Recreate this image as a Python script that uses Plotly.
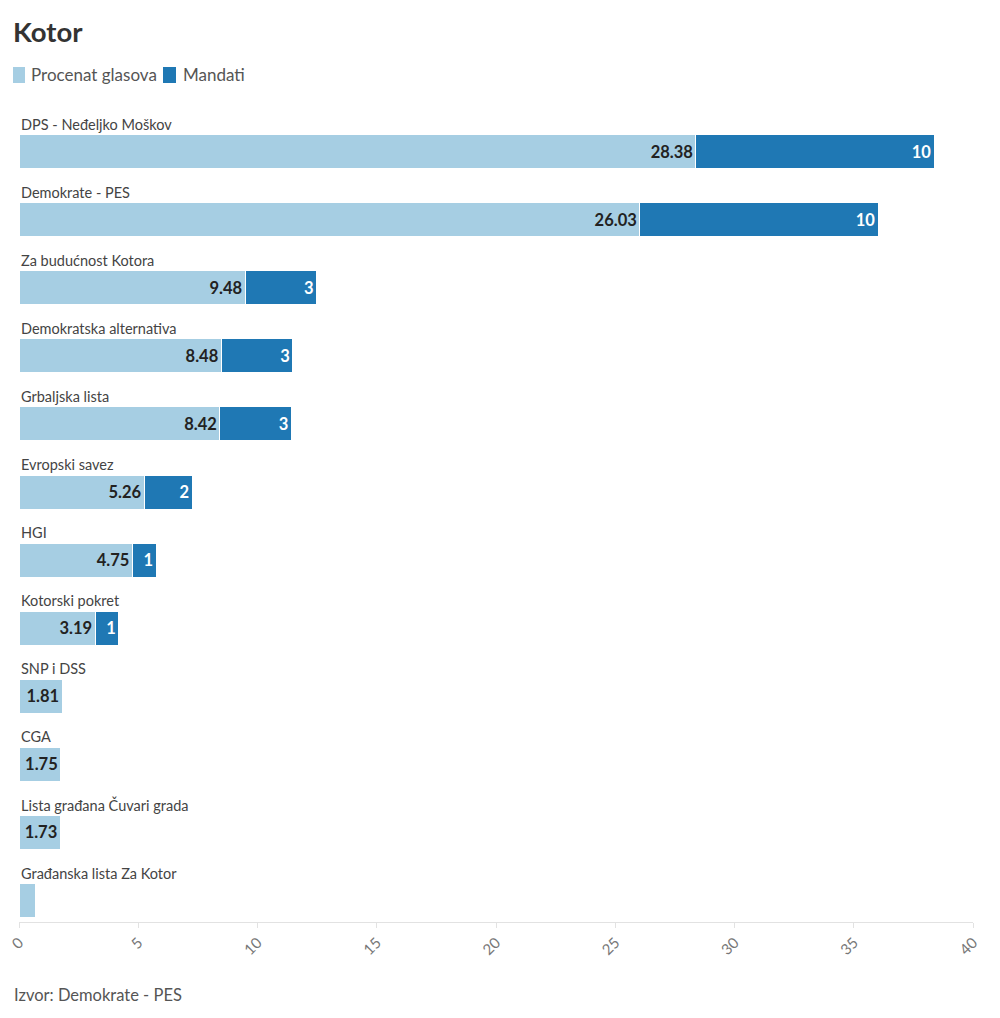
import plotly.graph_objects as go

categories = [
    "DPS - Neđeljko Moškov",
    "Demokrate - PES",
    "Za budućnost Kotora",
    "Demokratska alternativa",
    "Grbaljska lista",
    "Evropski savez",
    "HGI",
    "Kotorski pokret",
    "SNP i DSS",
    "CGA",
    "Lista građana Čuvari grada",
    "Građanska lista Za Kotor",
]
procenat = [28.38, 26.03, 9.48, 8.48, 8.42, 5.26, 4.75, 3.19, 1.81, 1.75, 1.73, 0.7]
mandati = [10, 10, 3, 3, 3, 2, 1, 1, 0, 0, 0, 0]
x_ticks = [0, 5, 10, 15, 20, 25, 30, 35, 40]
series_names = ["Procenat glasova", "Mandati"]

FONT = "Lato, 'Open Sans', sans-serif"
LIGHT = "#a6cee3"
DARK = "#1f78b4"

OFF = 8  # page body margin
W, H = 1000, 1018
ML, MR, MT, MB = 19 - OFF, 27 + OFF, 40 - OFF, 96 + OFF
PW = W - ML - MR
PH = H - MT - MB
PLOT_TOP_PX = 111 - OFF


def px_x(px):
    return (px - OFF - ML) / PW


def px_y(py):
    return (H - MB - (py - OFF)) / PH


pos = list(range(len(categories)))
proc_text = [f"{v:.2f}" if v >= 1 else "" for v in procenat]
mand_text = [str(m) if m > 0 else "" for m in mandati]

fig = go.Figure()
fig.add_trace(go.Bar(
    y=pos, x=procenat, orientation="h", name=series_names[0],
    marker=dict(color=LIGHT, line=dict(color="white", width=1)),
    width=0.5, text=proc_text, textposition="inside", insidetextanchor="end",
    textfont=dict(family=FONT, size=16.5, color="#222222", weight="bold"),
    hoverinfo="skip", showlegend=False,
))
fig.add_trace(go.Bar(
    y=pos, x=mandati, orientation="h", name=series_names[1],
    marker=dict(color=DARK, line=dict(color="white", width=1)),
    width=0.5, text=mand_text, textposition="inside", insidetextanchor="end",
    textfont=dict(family=FONT, size=16.5, color="white", weight="bold"),
    hoverinfo="skip", showlegend=False,
))

for i, c in enumerate(categories):
    fig.add_annotation(
        x=0, y=i - 0.4, xref="x", yref="y", text=c, showarrow=False,
        xanchor="left", yanchor="middle",
        font=dict(family=FONT, size=14.5, color="#444444"),
    )

# manual legend
legend_items = [(13, 25, 29, LIGHT, series_names[0]), (163, 176, 181, DARK, series_names[1])]
for x0, x1, tx, col, name in legend_items:
    fig.add_shape(type="rect", xref="paper", yref="paper",
                  x0=px_x(x0), x1=px_x(x1), y0=px_y(83), y1=px_y(67),
                  fillcolor=col, line=dict(width=0), layer="above")
    fig.add_annotation(x=px_x(tx), y=px_y(75), xref="paper", yref="paper",
                       text=name, showarrow=False, xanchor="left", yanchor="middle",
                       font=dict(family=FONT, size=17, color="#555555"))

fig.add_annotation(
    x=px_x(12), y=px_y(995), xref="paper", yref="paper", yanchor="middle", xanchor="left",
    text="Izvor: Demokrate - PES", showarrow=False,
    font=dict(family=FONT, size=16.5, color="#555555"),
)

fig.update_layout(
    width=W, height=H,
    barmode="stack",
    paper_bgcolor="white", plot_bgcolor="white",
    margin=dict(l=ML, r=MR, t=MT, b=MB, autoexpand=False),
    title=dict(text="<b>Kotor</b>", x=(13 - OFF) / W, xanchor="left",
               y=1 - (32 - OFF) / H, yanchor="middle",
               xref="container", yref="container",
               font=dict(family=FONT, size=27.5, color="#333333")),
    showlegend=False,
    xaxis=dict(range=[0, 40], tickvals=x_ticks, ticktext=[str(t) for t in x_ticks],
               tickangle=-45, showgrid=False, zeroline=False, showline=True,
               linecolor="#e2e2e2", linewidth=1, ticks="outside", ticklen=5,
               tickcolor="#e2e2e2", automargin=False, ticklabeloverflow="allow",
               tickfont=dict(family=FONT, size=15, color="#777777")),
    yaxis=dict(range=[11.32, -0.6], showticklabels=False, showgrid=False,
               zeroline=False, showline=False, automargin=False,
               domain=[0, (H - MB - PLOT_TOP_PX) / PH]),
    font=dict(family=FONT),
)

fig.write_html("out.html")
